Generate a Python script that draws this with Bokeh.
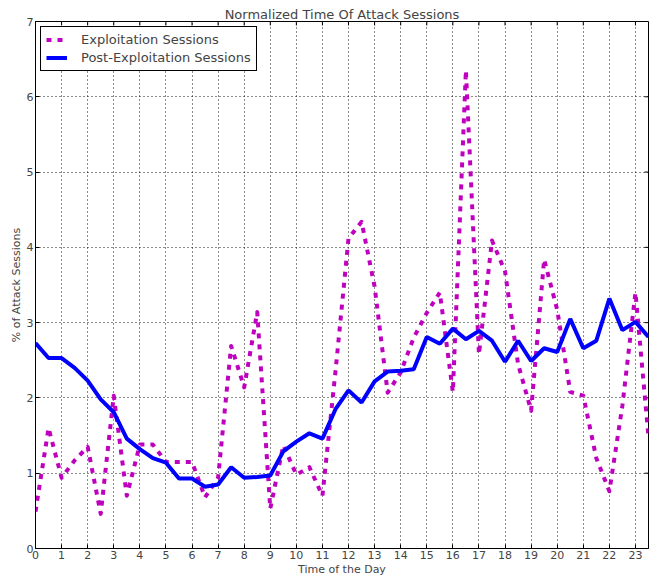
from bokeh.plotting import figure
from bokeh.models import FixedTicker, Range1d
from bokeh.embed import file_html
from bokeh.resources import INLINE

hours = [0.0, 0.5, 1.0, 1.5, 2.0, 2.5, 3.0, 3.5, 4.0, 4.5, 5.0, 5.5,
         6.0, 6.5, 7.0, 7.5, 8.0, 8.5, 9.0, 9.5, 10.0, 10.5, 11.0, 11.5,
         12.0, 12.5, 13.0, 13.5, 14.0, 14.5, 15.0, 15.5, 16.0, 16.5, 17.0, 17.5,
         18.0, 18.5, 19.0, 19.5, 20.0, 20.5, 21.0, 21.5, 22.0, 22.5, 23.0, 23.5]

exploitation = [0.49, 1.60, 0.94, 1.17, 1.35, 0.46, 2.03, 0.70, 1.38, 1.38, 1.15, 1.15,
                1.15, 0.68, 0.94, 2.69, 2.14, 3.14, 0.53, 1.37, 0.98, 1.08, 0.70, 2.35,
                4.12, 4.34, 3.48, 2.07, 2.34, 2.80, 3.13, 3.40, 2.08, 6.35, 2.58, 4.09,
                3.68, 2.45, 1.83, 3.84, 3.17, 2.08, 2.03, 1.20, 0.76, 1.90, 3.40, 1.48]

post_exploitation = [2.73, 2.53, 2.53, 2.40, 2.23, 1.98, 1.81, 1.46, 1.32, 1.20, 1.14, 0.93,
                     0.93, 0.82, 0.85, 1.08, 0.94, 0.95, 0.97, 1.29, 1.42, 1.53, 1.46, 1.85,
                     2.10, 1.94, 2.22, 2.35, 2.36, 2.38, 2.81, 2.72, 2.92, 2.78, 2.89, 2.76,
                     2.48, 2.76, 2.49, 2.66, 2.61, 3.05, 2.66, 2.76, 3.32, 2.90, 3.01, 2.81]

x_ticks = [0, 1, 2, 3, 4, 5, 6, 7, 8, 9, 10, 11, 12, 13, 14, 15, 16, 17, 18, 19, 20, 21, 22, 23]
y_ticks = [0, 1, 2, 3, 4, 5, 6, 7]

FONT = "DejaVu Sans"
X_MIN, X_MAX, Y_MIN, Y_MAX = 0, 23.5, 0, 7

W, H = 652, 578
BL, BR, BT, BB = 35, 4, 21, 28

p = figure(width=W, height=H, output_backend="svg", toolbar_location=None,
           x_range=Range1d(X_MIN, X_MAX), y_range=Range1d(Y_MIN, Y_MAX),
           title="Normalized Time Of Attack Sessions",
           min_border_left=BL, min_border_right=BR, min_border_top=BT, min_border_bottom=BB)

p.title.align = "center"
p.title.text_font = FONT
p.title.text_font_style = "normal"
p.title.text_font_size = "13px"
p.title.standoff = 0
p.title.offset = 0

p.outline_line_color = "black"
p.outline_line_width = 1
p.outline_line_alpha = 1.0

xt = FixedTicker(ticks=x_ticks)
yt = FixedTicker(ticks=y_ticks)
p.xaxis[0].ticker = xt
p.yaxis[0].ticker = yt

p.xaxis.axis_label = "Time of the Day"
p.yaxis.axis_label = "% of Attack Sessions"
for ax in list(p.xaxis) + list(p.yaxis):
    ax.axis_label_text_font = FONT
    ax.axis_label_text_font_style = "normal"
    ax.axis_label_text_font_size = "11px"
    ax.axis_label_standoff = 1
    ax.major_label_text_font = FONT
    ax.major_label_text_font_size = "11px"
    ax.major_label_standoff = 2
    ax.major_tick_in = 4
    ax.major_tick_out = 0
    ax.minor_tick_line_color = None
    ax.axis_line_color = "black"
    ax.major_tick_line_color = "black"

p.xgrid.ticker = xt
p.ygrid.ticker = yt
for g in [p.xgrid[0], p.ygrid[0]]:
    g.grid_line_color = "black"
    g.grid_line_dash = "1 3"
    g.grid_line_width = 1
    g.grid_line_alpha = 0.9

# inward ticks on the top and right edges of the frame (4 px long)
frame_w = W - BL - BR
frame_h = H - BT - BB
dx = 4 * (X_MAX - X_MIN) / frame_w
dy = 4 * (Y_MAX - Y_MIN) / frame_h
p.segment(x0=x_ticks, y0=[Y_MAX] * len(x_ticks), x1=x_ticks, y1=[Y_MAX - dy] * len(x_ticks),
          line_color="black", line_width=1)
p.segment(x0=[X_MAX] * len(y_ticks), y0=y_ticks, x1=[X_MAX - dx] * len(y_ticks), y1=y_ticks,
          line_color="black", line_width=1)

p.line(hours, exploitation, line_color="#bf00bf", line_width=4, line_dash="5 6",
       line_join="round", legend_label="Exploitation Sessions")
p.line(hours, post_exploitation, line_color="#0000ff", line_width=4,
       legend_label="Post-Exploitation Sessions")

lg = p.legend[0]
lg.location = "top_left"
lg.margin = 5
lg.padding = 5
lg.spacing = 3
lg.border_line_color = "black"
lg.border_line_width = 1
lg.border_line_alpha = 1
lg.background_fill_color = "white"
lg.background_fill_alpha = 1
lg.label_text_font = FONT
lg.label_text_font_size = "13px"
lg.label_standoff = 14
lg.glyph_width = 21
lg.glyph_height = 15
lg.label_height = 15

open("out.html", "w").write(file_html(p, INLINE))
